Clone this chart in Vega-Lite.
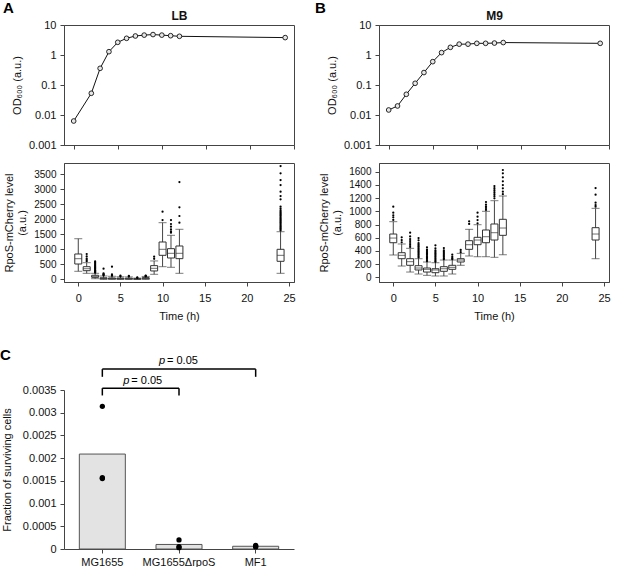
{
  "$schema": "https://vega.github.io/schema/vega-lite/v6.json",
  "background": "white",
  "padding": {"left": 0, "top": 0, "right": 0, "bottom": 0},
  "config": {
    "font": "Liberation Sans",
    "view": {"stroke": "#444", "strokeWidth": 1},
    "axis": {"grid": false, "domainColor": "#444", "tickColor": "#444", "labelColor": "#111", "titleColor": "#111", "labelFontSize": 11, "titleFontSize": 11, "titleFontWeight": "normal", "tickSize": 4, "labelPadding": 4, "titlePadding": 6, "labelOverlap": false, "labelFlush": false, "labelBound": false, "labelFont": "Liberation Sans", "titleFont": "Liberation Sans"},
    "title": {"fontSize": 15, "fontWeight": "bold", "font": "Liberation Sans", "anchor": "start", "frame": "group", "color": "#000"}
  },
  "datasets": {
    "growth": [
      {"m": "LB", "t": 0, "od": 0.0063}, {"m": "LB", "t": 2, "od": 0.053}, {"m": "LB", "t": 3, "od": 0.36}, {"m": "LB", "t": 4, "od": 1.29}, {"m": "LB", "t": 5, "od": 2.65}, {"m": "LB", "t": 6, "od": 3.6}, {"m": "LB", "t": 7, "od": 4.3}, {"m": "LB", "t": 8, "od": 4.6}, {"m": "LB", "t": 9, "od": 4.8}, {"m": "LB", "t": 10, "od": 4.6}, {"m": "LB", "t": 11, "od": 4.4}, {"m": "LB", "t": 12, "od": 4.2}, {"m": "LB", "t": 24, "od": 3.8},
      {"m": "M9", "t": 0, "od": 0.0147}, {"m": "M9", "t": 1, "od": 0.02}, {"m": "M9", "t": 2, "od": 0.049}, {"m": "M9", "t": 3, "od": 0.114}, {"m": "M9", "t": 4, "od": 0.26}, {"m": "M9", "t": 5, "od": 0.6}, {"m": "M9", "t": 6, "od": 1.2}, {"m": "M9", "t": 7, "od": 1.8}, {"m": "M9", "t": 8, "od": 2.3}, {"m": "M9", "t": 9, "od": 2.3}, {"m": "M9", "t": 10, "od": 2.45}, {"m": "M9", "t": 11, "od": 2.45}, {"m": "M9", "t": 12, "od": 2.5}, {"m": "M9", "t": 13, "od": 2.6}, {"m": "M9", "t": 24, "od": 2.45}
    ],
    "boxes": [
      {"m": "LB", "t": 0, "lo": 266, "q1": 508, "med": 685, "q3": 841, "hi": 1349},
      {"m": "LB", "t": 1, "lo": 199, "q1": 286, "med": 352, "q3": 419, "hi": 552},
      {"m": "LB", "t": 2, "lo": 20, "q1": 66, "med": 86, "q3": 133, "hi": 199},
      {"m": "LB", "t": 3, "lo": 0, "q1": 15, "med": 30, "q3": 50, "hi": 110},
      {"m": "LB", "t": 4, "lo": 0, "q1": 12, "med": 25, "q3": 45, "hi": 100},
      {"m": "LB", "t": 5, "lo": 0, "q1": 10, "med": 22, "q3": 40, "hi": 85},
      {"m": "LB", "t": 6, "lo": 0, "q1": 10, "med": 20, "q3": 38, "hi": 80},
      {"m": "LB", "t": 7, "lo": 0, "q1": 5, "med": 12, "q3": 22, "hi": 40},
      {"m": "LB", "t": 8, "lo": 0, "q1": 15, "med": 30, "q3": 55, "hi": 95},
      {"m": "LB", "t": 9, "lo": 166, "q1": 277, "med": 365, "q3": 454, "hi": 610},
      {"m": "LB", "t": 10, "lo": 419, "q1": 797, "med": 997, "q3": 1240, "hi": 1882},
      {"m": "LB", "t": 11, "lo": 399, "q1": 708, "med": 864, "q3": 1018, "hi": 1462},
      {"m": "LB", "t": 12, "lo": 199, "q1": 686, "med": 864, "q3": 1107, "hi": 1662},
      {"m": "LB", "t": 24, "lo": 199, "q1": 598, "med": 797, "q3": 997, "hi": 1582},
      {"m": "M9", "t": 0, "lo": 338, "q1": 524, "med": 595, "q3": 656, "hi": 843},
      {"m": "M9", "t": 1, "lo": 171, "q1": 282, "med": 333, "q3": 373, "hi": 505},
      {"m": "M9", "t": 2, "lo": 80, "q1": 182, "med": 237, "q3": 282, "hi": 439},
      {"m": "M9", "t": 3, "lo": 50, "q1": 111, "med": 141, "q3": 176, "hi": 282},
      {"m": "M9", "t": 4, "lo": 30, "q1": 80, "med": 121, "q3": 141, "hi": 232},
      {"m": "M9", "t": 5, "lo": 20, "q1": 70, "med": 111, "q3": 130, "hi": 221},
      {"m": "M9", "t": 6, "lo": 20, "q1": 91, "med": 130, "q3": 161, "hi": 262},
      {"m": "M9", "t": 7, "lo": 50, "q1": 121, "med": 151, "q3": 182, "hi": 262},
      {"m": "M9", "t": 8, "lo": 182, "q1": 232, "med": 262, "q3": 282, "hi": 363},
      {"m": "M9", "t": 9, "lo": 323, "q1": 424, "med": 494, "q3": 555, "hi": 727},
      {"m": "M9", "t": 10, "lo": 312, "q1": 494, "med": 565, "q3": 606, "hi": 797},
      {"m": "M9", "t": 11, "lo": 312, "q1": 524, "med": 615, "q3": 717, "hi": 1000},
      {"m": "M9", "t": 12, "lo": 303, "q1": 565, "med": 676, "q3": 808, "hi": 1161},
      {"m": "M9", "t": 13, "lo": 342, "q1": 636, "med": 747, "q3": 879, "hi": 1232},
      {"m": "M9", "t": 24, "lo": 282, "q1": 565, "med": 656, "q3": 752, "hi": 1045}
    ],
    "outliers": [
      {"m": "LB", "t": 1, "v": 600}, {"m": "LB", "t": 1, "v": 640}, {"m": "LB", "t": 1, "v": 685}, {"m": "LB", "t": 1, "v": 760}, {"m": "LB", "t": 1, "v": 841},
      {"m": "LB", "t": 2, "v": 220}, {"m": "LB", "t": 2, "v": 240}, {"m": "LB", "t": 2, "v": 260}, {"m": "LB", "t": 2, "v": 280}, {"m": "LB", "t": 2, "v": 300}, {"m": "LB", "t": 2, "v": 330}, {"m": "LB", "t": 2, "v": 360}, {"m": "LB", "t": 2, "v": 390}, {"m": "LB", "t": 2, "v": 420}, {"m": "LB", "t": 2, "v": 450}, {"m": "LB", "t": 2, "v": 480}, {"m": "LB", "t": 2, "v": 520}, {"m": "LB", "t": 2, "v": 560}, {"m": "LB", "t": 2, "v": 598},
      {"m": "LB", "t": 3, "v": 130}, {"m": "LB", "t": 3, "v": 150}, {"m": "LB", "t": 3, "v": 170}, {"m": "LB", "t": 3, "v": 200}, {"m": "LB", "t": 3, "v": 352},
      {"m": "LB", "t": 4, "v": 120}, {"m": "LB", "t": 4, "v": 140}, {"m": "LB", "t": 4, "v": 160}, {"m": "LB", "t": 4, "v": 419},
      {"m": "LB", "t": 5, "v": 100}, {"m": "LB", "t": 5, "v": 120},
      {"m": "LB", "t": 6, "v": 95}, {"m": "LB", "t": 6, "v": 110},
      {"m": "LB", "t": 7, "v": 50}, {"m": "LB", "t": 7, "v": 60},
      {"m": "LB", "t": 8, "v": 100}, {"m": "LB", "t": 8, "v": 110}, {"m": "LB", "t": 8, "v": 120},
      {"m": "LB", "t": 9, "v": 680}, {"m": "LB", "t": 9, "v": 750},
      {"m": "LB", "t": 10, "v": 1970}, {"m": "LB", "t": 10, "v": 2247},
      {"m": "LB", "t": 11, "v": 1550}, {"m": "LB", "t": 11, "v": 1595}, {"m": "LB", "t": 11, "v": 1662}, {"m": "LB", "t": 11, "v": 1749}, {"m": "LB", "t": 11, "v": 1838}, {"m": "LB", "t": 11, "v": 1970},
      {"m": "LB", "t": 12, "v": 1882}, {"m": "LB", "t": 12, "v": 2104}, {"m": "LB", "t": 12, "v": 2393}, {"m": "LB", "t": 12, "v": 3234},
      {"m": "LB", "t": 24, "v": 1620}, {"m": "LB", "t": 24, "v": 1660}, {"m": "LB", "t": 24, "v": 1700}, {"m": "LB", "t": 24, "v": 1740}, {"m": "LB", "t": 24, "v": 1780}, {"m": "LB", "t": 24, "v": 1820}, {"m": "LB", "t": 24, "v": 1860}, {"m": "LB", "t": 24, "v": 1900}, {"m": "LB", "t": 24, "v": 1940}, {"m": "LB", "t": 24, "v": 1980}, {"m": "LB", "t": 24, "v": 2020}, {"m": "LB", "t": 24, "v": 2060}, {"m": "LB", "t": 24, "v": 2100}, {"m": "LB", "t": 24, "v": 2140}, {"m": "LB", "t": 24, "v": 2180}, {"m": "LB", "t": 24, "v": 2220}, {"m": "LB", "t": 24, "v": 2260}, {"m": "LB", "t": 24, "v": 2300}, {"m": "LB", "t": 24, "v": 2359}, {"m": "LB", "t": 24, "v": 2420}, {"m": "LB", "t": 24, "v": 2658}, {"m": "LB", "t": 24, "v": 2768}, {"m": "LB", "t": 24, "v": 2912}, {"m": "LB", "t": 24, "v": 3134}, {"m": "LB", "t": 24, "v": 3300}, {"m": "LB", "t": 24, "v": 3522}, {"m": "LB", "t": 24, "v": 3764},
      {"m": "M9", "t": 0, "v": 870}, {"m": "M9", "t": 0, "v": 909}, {"m": "M9", "t": 0, "v": 939}, {"m": "M9", "t": 0, "v": 979}, {"m": "M9", "t": 0, "v": 1070},
      {"m": "M9", "t": 1, "v": 530}, {"m": "M9", "t": 1, "v": 565}, {"m": "M9", "t": 1, "v": 606},
      {"m": "M9", "t": 2, "v": 460}, {"m": "M9", "t": 2, "v": 490}, {"m": "M9", "t": 2, "v": 520}, {"m": "M9", "t": 2, "v": 550}, {"m": "M9", "t": 2, "v": 580}, {"m": "M9", "t": 2, "v": 620}, {"m": "M9", "t": 2, "v": 676},
      {"m": "M9", "t": 3, "v": 300}, {"m": "M9", "t": 3, "v": 320}, {"m": "M9", "t": 3, "v": 340}, {"m": "M9", "t": 3, "v": 360}, {"m": "M9", "t": 3, "v": 380}, {"m": "M9", "t": 3, "v": 400}, {"m": "M9", "t": 3, "v": 420}, {"m": "M9", "t": 3, "v": 440}, {"m": "M9", "t": 3, "v": 460}, {"m": "M9", "t": 3, "v": 480}, {"m": "M9", "t": 3, "v": 500}, {"m": "M9", "t": 3, "v": 520}, {"m": "M9", "t": 3, "v": 560}, {"m": "M9", "t": 3, "v": 595},
      {"m": "M9", "t": 4, "v": 245}, {"m": "M9", "t": 4, "v": 260}, {"m": "M9", "t": 4, "v": 280}, {"m": "M9", "t": 4, "v": 300}, {"m": "M9", "t": 4, "v": 320}, {"m": "M9", "t": 4, "v": 340}, {"m": "M9", "t": 4, "v": 360}, {"m": "M9", "t": 4, "v": 380}, {"m": "M9", "t": 4, "v": 400}, {"m": "M9", "t": 4, "v": 420}, {"m": "M9", "t": 4, "v": 454},
      {"m": "M9", "t": 5, "v": 235}, {"m": "M9", "t": 5, "v": 250}, {"m": "M9", "t": 5, "v": 270}, {"m": "M9", "t": 5, "v": 290}, {"m": "M9", "t": 5, "v": 310}, {"m": "M9", "t": 5, "v": 330}, {"m": "M9", "t": 5, "v": 350}, {"m": "M9", "t": 5, "v": 370}, {"m": "M9", "t": 5, "v": 390}, {"m": "M9", "t": 5, "v": 410}, {"m": "M9", "t": 5, "v": 440}, {"m": "M9", "t": 5, "v": 485},
      {"m": "M9", "t": 6, "v": 275}, {"m": "M9", "t": 6, "v": 290}, {"m": "M9", "t": 6, "v": 310}, {"m": "M9", "t": 6, "v": 330}, {"m": "M9", "t": 6, "v": 350}, {"m": "M9", "t": 6, "v": 370}, {"m": "M9", "t": 6, "v": 390}, {"m": "M9", "t": 6, "v": 410}, {"m": "M9", "t": 6, "v": 444},
      {"m": "M9", "t": 7, "v": 275}, {"m": "M9", "t": 7, "v": 290}, {"m": "M9", "t": 7, "v": 310}, {"m": "M9", "t": 7, "v": 342},
      {"m": "M9", "t": 8, "v": 380}, {"m": "M9", "t": 8, "v": 414},
      {"m": "M9", "t": 9, "v": 808}, {"m": "M9", "t": 9, "v": 848},
      {"m": "M9", "t": 10, "v": 818}, {"m": "M9", "t": 10, "v": 868}, {"m": "M9", "t": 10, "v": 918}, {"m": "M9", "t": 10, "v": 979},
      {"m": "M9", "t": 11, "v": 1020}, {"m": "M9", "t": 11, "v": 1050}, {"m": "M9", "t": 11, "v": 1070}, {"m": "M9", "t": 11, "v": 1100}, {"m": "M9", "t": 11, "v": 1141},
      {"m": "M9", "t": 12, "v": 1197}, {"m": "M9", "t": 12, "v": 1230}, {"m": "M9", "t": 12, "v": 1260}, {"m": "M9", "t": 12, "v": 1290}, {"m": "M9", "t": 12, "v": 1320}, {"m": "M9", "t": 12, "v": 1350}, {"m": "M9", "t": 12, "v": 1383},
      {"m": "M9", "t": 13, "v": 1260}, {"m": "M9", "t": 13, "v": 1297}, {"m": "M9", "t": 13, "v": 1348}, {"m": "M9", "t": 13, "v": 1398}, {"m": "M9", "t": 13, "v": 1455}, {"m": "M9", "t": 13, "v": 1515}, {"m": "M9", "t": 13, "v": 1576}, {"m": "M9", "t": 13, "v": 1626},
      {"m": "M9", "t": 24, "v": 1070}, {"m": "M9", "t": 24, "v": 1095}, {"m": "M9", "t": 24, "v": 1130}, {"m": "M9", "t": 24, "v": 1252}, {"m": "M9", "t": 24, "v": 1353}
    ],
    "surv": [
      {"strain": "MG1655", "mean": 0.00209},
      {"strain": "MG1655ΔrpoS", "mean": 0.0001},
      {"strain": "MF1", "mean": 0.00006}
    ],
    "survpts": [
      {"strain": "MG1655", "v": 0.00314}, {"strain": "MG1655", "v": 0.00155}, {"strain": "MG1655", "v": 0.00157},
      {"strain": "MG1655ΔrpoS", "v": 0.0002}, {"strain": "MG1655ΔrpoS", "v": 0.00005}, {"strain": "MG1655ΔrpoS", "v": 0.00003},
      {"strain": "MF1", "v": 0.00008}, {"strain": "MF1", "v": 0.00005}, {"strain": "MF1", "v": 0.00005}
    ],
    "brackets": [
      {"pair": "outer", "from": "MG1655", "to": "MF1", "y": 0.00396, "ylab": 0.00407, "mid": "MG1655ΔrpoS"},
      {"pair": "inner", "from": "MG1655", "to": "MG1655ΔrpoS", "y": 0.00354, "ylab": 0.00364, "mid": "MG1655"}
    ],
    "legs": [
      {"strain": "MG1655", "y1": 0.00379, "y2": 0.00396},
      {"strain": "MF1", "y1": 0.00379, "y2": 0.00396},
      {"strain": "MG1655", "y1": 0.00338, "y2": 0.00354},
      {"strain": "MG1655ΔrpoS", "y1": 0.00338, "y2": 0.00354}
    ]
  },
  "vconcat": [
    {
      "columns": 2,
      "bounds": "flush",
      "spacing": {"row": 18, "column": 85},
      "concat": [
        {
          "width": 230, "height": 120,
          "title": {"text": "A", "dx": -61, "dy": 11},
          "data": {"name": "growth"},
          "transform": [{"filter": "datum.m === 'LB'"}],
          "resolve": {"axis": {"x": "independent"}},
          "layer": [
            {
              "mark": {"type": "line", "color": "#111", "strokeWidth": 1},
              "encoding": {
                "x": {"field": "t", "type": "quantitative", "scale": {"domain": [-1.1, 25], "nice": false, "zero": false}, "axis": {"orient": "bottom", "values": [0, 5, 10, 15, 20, 25], "labels": false, "title": null}},
                "y": {"field": "od", "type": "quantitative", "scale": {"type": "log", "domain": [0.001, 10], "nice": false}, "axis": {"values": [0.001, 0.01, 0.1, 1, 10], "format": "~g", "labelOverlap": false, "title": "OD₆₀₀ (a.u.)"}, "title": "OD₆₀₀ (a.u.)"}
              }
            },
            {
              "mark": {"type": "point", "shape": "circle", "size": 22, "filled": true, "fill": "#e6e6e6", "stroke": "#111", "strokeWidth": 0.9, "opacity": 1},
              "encoding": {
                "x": {"field": "t", "type": "quantitative", "axis": {"orient": "top", "title": "LB", "labels": false, "ticks": false, "domain": false, "titleFontWeight": "bold", "titleFontSize": 12, "titlePadding": 3}},
                "y": {"field": "od", "type": "quantitative", "title": "OD₆₀₀ (a.u.)"}
              }
            }
          ]
        },
        {
          "width": 230, "height": 120,
          "title": {"text": "B", "dx": -64, "dy": 11},
          "data": {"name": "growth"},
          "transform": [{"filter": "datum.m === 'M9'"}],
          "resolve": {"axis": {"x": "independent"}},
          "layer": [
            {
              "mark": {"type": "line", "color": "#111", "strokeWidth": 1},
              "encoding": {
                "x": {"field": "t", "type": "quantitative", "scale": {"domain": [-1.1, 25], "nice": false, "zero": false}, "axis": {"orient": "bottom", "values": [0, 5, 10, 15, 20, 25], "labels": false, "title": null}},
                "y": {"field": "od", "type": "quantitative", "scale": {"type": "log", "domain": [0.001, 10], "nice": false}, "axis": {"values": [0.001, 0.01, 0.1, 1, 10], "format": "~g", "labelOverlap": false, "title": "OD₆₀₀ (a.u.)"}, "title": "OD₆₀₀ (a.u.)"}
              }
            },
            {
              "mark": {"type": "point", "shape": "circle", "size": 22, "filled": true, "fill": "#e6e6e6", "stroke": "#111", "strokeWidth": 0.9, "opacity": 1},
              "encoding": {
                "x": {"field": "t", "type": "quantitative", "axis": {"orient": "top", "title": "M9", "labels": false, "ticks": false, "domain": false, "titleFontWeight": "bold", "titleFontSize": 12, "titlePadding": 3}},
                "y": {"field": "od", "type": "quantitative", "title": "OD₆₀₀ (a.u.)"}
              }
            }
          ]
        },
        {
          "width": 230, "height": 119,
          "data": {"name": "boxes"},
          "transform": [{"filter": "datum.m === 'LB'"}],
          "encoding": {
            "x": {"field": "t", "type": "quantitative", "scale": {"domain": [-1.1, 25], "nice": false, "zero": false}, "axis": {"values": [0, 5, 10, 15, 20, 25], "title": "Time (h)", "labelPadding": 6, "titlePadding": 7, "labelOverlap": false}}
          },
          "layer": [
            {"mark": {"type": "rule", "color": "#444", "strokeWidth": 1}, "encoding": {"y": {"field": "lo", "type": "quantitative", "scale": {"domain": [-90, 3866], "nice": false, "zero": false}, "axis": {"values": [0, 500, 1000, 1500, 2000, 2500, 3000, 3500], "format": "d", "labelFontSize": 10, "labelOverlap": false, "labelSeparation": 0}, "title": ["RpoS-mCherry level", "(a.u.)"]}, "y2": {"field": "hi"}}},
            {"mark": {"type": "tick", "orient": "horizontal", "size": 8, "thickness": 1, "color": "#444"}, "encoding": {"y": {"field": "lo", "type": "quantitative", "axis": {"values": [0, 500, 1000, 1500, 2000, 2500, 3000, 3500], "format": "d", "labelFontSize": 10, "labelOverlap": false, "labelSeparation": 0}, "title": ["RpoS-mCherry level", "(a.u.)"]}}},
            {"mark": {"type": "tick", "orient": "horizontal", "size": 8, "thickness": 1, "color": "#444"}, "encoding": {"y": {"field": "hi", "type": "quantitative", "axis": {"values": [0, 500, 1000, 1500, 2000, 2500, 3000, 3500], "format": "d", "labelFontSize": 10, "labelOverlap": false, "labelSeparation": 0}, "title": ["RpoS-mCherry level", "(a.u.)"]}}},
            {"mark": {"type": "bar", "size": 7, "fill": "white", "stroke": "#333", "strokeWidth": 1}, "encoding": {"y": {"field": "q1", "type": "quantitative", "axis": {"values": [0, 500, 1000, 1500, 2000, 2500, 3000, 3500], "format": "d", "labelFontSize": 10, "labelOverlap": false, "labelSeparation": 0}, "title": ["RpoS-mCherry level", "(a.u.)"]}, "y2": {"field": "q3"}}},
            {"mark": {"type": "tick", "orient": "horizontal", "size": 7, "thickness": 1, "color": "#333"}, "encoding": {"y": {"field": "med", "type": "quantitative", "axis": {"values": [0, 500, 1000, 1500, 2000, 2500, 3000, 3500], "format": "d", "labelFontSize": 10, "labelOverlap": false, "labelSeparation": 0}, "title": ["RpoS-mCherry level", "(a.u.)"]}}},
            {"data": {"name": "outliers"}, "transform": [{"filter": "datum.m === 'LB'"}], "mark": {"type": "circle", "size": 5, "color": "#000", "opacity": 1}, "encoding": {"y": {"field": "v", "type": "quantitative", "axis": {"values": [0, 500, 1000, 1500, 2000, 2500, 3000, 3500], "format": "d", "labelFontSize": 10, "labelOverlap": false, "labelSeparation": 0}, "title": ["RpoS-mCherry level", "(a.u.)"]}}}
          ]
        },
        {
          "width": 230, "height": 119,
          "data": {"name": "boxes"},
          "transform": [{"filter": "datum.m === 'M9'"}],
          "encoding": {
            "x": {"field": "t", "type": "quantitative", "scale": {"domain": [-1.1, 25], "nice": false, "zero": false}, "axis": {"values": [0, 5, 10, 15, 20, 25], "title": "Time (h)", "labelPadding": 6, "titlePadding": 7, "labelOverlap": false}}
          },
          "layer": [
            {"mark": {"type": "rule", "color": "#444", "strokeWidth": 1}, "encoding": {"y": {"field": "lo", "type": "quantitative", "scale": {"domain": [-71, 1732], "nice": false, "zero": false}, "axis": {"values": [0, 200, 400, 600, 800, 1000, 1200, 1400, 1600], "format": "d", "labelFontSize": 10, "labelOverlap": false, "labelSeparation": 0}, "title": ["RpoS-mCherry level", "(a.u.)"]}, "y2": {"field": "hi"}}},
            {"mark": {"type": "tick", "orient": "horizontal", "size": 8, "thickness": 1, "color": "#444"}, "encoding": {"y": {"field": "lo", "type": "quantitative", "axis": {"values": [0, 200, 400, 600, 800, 1000, 1200, 1400, 1600], "format": "d", "labelFontSize": 10, "labelOverlap": false, "labelSeparation": 0}, "title": ["RpoS-mCherry level", "(a.u.)"]}}},
            {"mark": {"type": "tick", "orient": "horizontal", "size": 8, "thickness": 1, "color": "#444"}, "encoding": {"y": {"field": "hi", "type": "quantitative", "axis": {"values": [0, 200, 400, 600, 800, 1000, 1200, 1400, 1600], "format": "d", "labelFontSize": 10, "labelOverlap": false, "labelSeparation": 0}, "title": ["RpoS-mCherry level", "(a.u.)"]}}},
            {"mark": {"type": "bar", "size": 7, "fill": "white", "stroke": "#333", "strokeWidth": 1}, "encoding": {"y": {"field": "q1", "type": "quantitative", "axis": {"values": [0, 200, 400, 600, 800, 1000, 1200, 1400, 1600], "format": "d", "labelFontSize": 10, "labelOverlap": false, "labelSeparation": 0}, "title": ["RpoS-mCherry level", "(a.u.)"]}, "y2": {"field": "q3"}}},
            {"mark": {"type": "tick", "orient": "horizontal", "size": 7, "thickness": 1, "color": "#333"}, "encoding": {"y": {"field": "med", "type": "quantitative", "axis": {"values": [0, 200, 400, 600, 800, 1000, 1200, 1400, 1600], "format": "d", "labelFontSize": 10, "labelOverlap": false, "labelSeparation": 0}, "title": ["RpoS-mCherry level", "(a.u.)"]}}},
            {"data": {"name": "outliers"}, "transform": [{"filter": "datum.m === 'M9'"}], "mark": {"type": "circle", "size": 5, "color": "#000", "opacity": 1}, "encoding": {"y": {"field": "v", "type": "quantitative", "axis": {"values": [0, 200, 400, 600, 800, 1000, 1200, 1400, 1600], "format": "d", "labelFontSize": 10, "labelOverlap": false, "labelSeparation": 0}, "title": ["RpoS-mCherry level", "(a.u.)"]}}}
          ]
        }
      ]
    },
    {
      "width": 230, "height": 159,
      "view": {"stroke": null},
      "title": {"text": "C", "dx": -64, "dy": 12},
      "encoding": {
        "x": {"field": "strain", "type": "nominal", "sort": ["MG1655", "MG1655ΔrpoS", "MF1"], "scale": {"domain": ["MG1655", "MG1655ΔrpoS", "MF1"], "paddingInner": 0.4, "paddingOuter": 0.2}, "axis": {"labelAngle": 0, "title": null, "labelPadding": 3}}
      },
      "layer": [
        {"data": {"name": "surv"}, "mark": {"type": "bar", "fill": "#e3e3e3", "stroke": "#555", "strokeWidth": 1}, "encoding": {"y": {"field": "mean", "type": "quantitative", "scale": {"domain": [0, 0.0035], "nice": false}, "axis": {"values": [0, 0.0005, 0.001, 0.0015, 0.002, 0.0025, 0.003, 0.0035], "format": "~g", "labelOverlap": false, "labelSeparation": 0, "titlePadding": 10}, "title": "Fraction of surviving cells"}}},
        {"data": {"name": "survpts"}, "mark": {"type": "circle", "size": 28, "color": "#000", "opacity": 1}, "encoding": {"y": {"field": "v", "type": "quantitative", "axis": {"values": [0, 0.0005, 0.001, 0.0015, 0.002, 0.0025, 0.003, 0.0035], "format": "~g", "labelOverlap": false, "labelSeparation": 0, "titlePadding": 10}, "title": "Fraction of surviving cells"}}},
        {"data": {"name": "brackets"}, "mark": {"type": "rule", "color": "#000", "strokeWidth": 1.5}, "encoding": {"x": {"field": "from", "type": "nominal", "sort": ["MG1655", "MG1655ΔrpoS", "MF1"]}, "x2": {"field": "to"}, "y": {"field": "y", "type": "quantitative", "axis": {"values": [0, 0.0005, 0.001, 0.0015, 0.002, 0.0025, 0.003, 0.0035], "format": "~g", "labelOverlap": false, "labelSeparation": 0, "titlePadding": 10}, "title": "Fraction of surviving cells"}}},
        {"data": {"name": "legs"}, "mark": {"type": "rule", "color": "#000", "strokeWidth": 1.5}, "encoding": {"y": {"field": "y1", "type": "quantitative", "axis": {"values": [0, 0.0005, 0.001, 0.0015, 0.002, 0.0025, 0.003, 0.0035], "format": "~g", "labelOverlap": false, "labelSeparation": 0, "titlePadding": 10}, "title": "Fraction of surviving cells"}, "y2": {"field": "y2"}}},
        {"data": {"name": "brackets"}, "transform": [{"filter": "datum.pair === 'outer'"}], "mark": {"type": "text", "text": "p", "fontStyle": "italic", "fontSize": 11, "align": "right", "baseline": "alphabetic", "dx": -14}, "encoding": {"x": {"field": "mid", "type": "nominal", "sort": ["MG1655", "MG1655ΔrpoS", "MF1"]}, "y": {"field": "ylab", "type": "quantitative", "axis": {"values": [0, 0.0005, 0.001, 0.0015, 0.002, 0.0025, 0.003, 0.0035], "format": "~g", "labelOverlap": false, "labelSeparation": 0, "titlePadding": 10}, "title": "Fraction of surviving cells"}}},
        {"data": {"name": "brackets"}, "transform": [{"filter": "datum.pair === 'outer'"}], "mark": {"type": "text", "text": "= 0.05", "fontSize": 11, "align": "left", "baseline": "alphabetic", "dx": -12}, "encoding": {"x": {"field": "mid", "type": "nominal", "sort": ["MG1655", "MG1655ΔrpoS", "MF1"]}, "y": {"field": "ylab", "type": "quantitative", "axis": {"values": [0, 0.0005, 0.001, 0.0015, 0.002, 0.0025, 0.003, 0.0035], "format": "~g", "labelOverlap": false, "labelSeparation": 0, "titlePadding": 10}, "title": "Fraction of surviving cells"}}},
        {"data": {"name": "brackets"}, "transform": [{"filter": "datum.pair === 'inner'"}], "mark": {"type": "text", "text": "p", "fontStyle": "italic", "fontSize": 11, "align": "right", "baseline": "alphabetic", "dx": 27}, "encoding": {"x": {"field": "mid", "type": "nominal", "sort": ["MG1655", "MG1655ΔrpoS", "MF1"]}, "y": {"field": "ylab", "type": "quantitative", "axis": {"values": [0, 0.0005, 0.001, 0.0015, 0.002, 0.0025, 0.003, 0.0035], "format": "~g", "labelOverlap": false, "labelSeparation": 0, "titlePadding": 10}, "title": "Fraction of surviving cells"}}},
        {"data": {"name": "brackets"}, "transform": [{"filter": "datum.pair === 'inner'"}], "mark": {"type": "text", "text": "= 0.05", "fontSize": 11, "align": "left", "baseline": "alphabetic", "dx": 29}, "encoding": {"x": {"field": "mid", "type": "nominal", "sort": ["MG1655", "MG1655ΔrpoS", "MF1"]}, "y": {"field": "ylab", "type": "quantitative", "axis": {"values": [0, 0.0005, 0.001, 0.0015, 0.002, 0.0025, 0.003, 0.0035], "format": "~g", "labelOverlap": false, "labelSeparation": 0, "titlePadding": 10}, "title": "Fraction of surviving cells"}}}
      ]
    }
  ],
  "spacing": 26
}
